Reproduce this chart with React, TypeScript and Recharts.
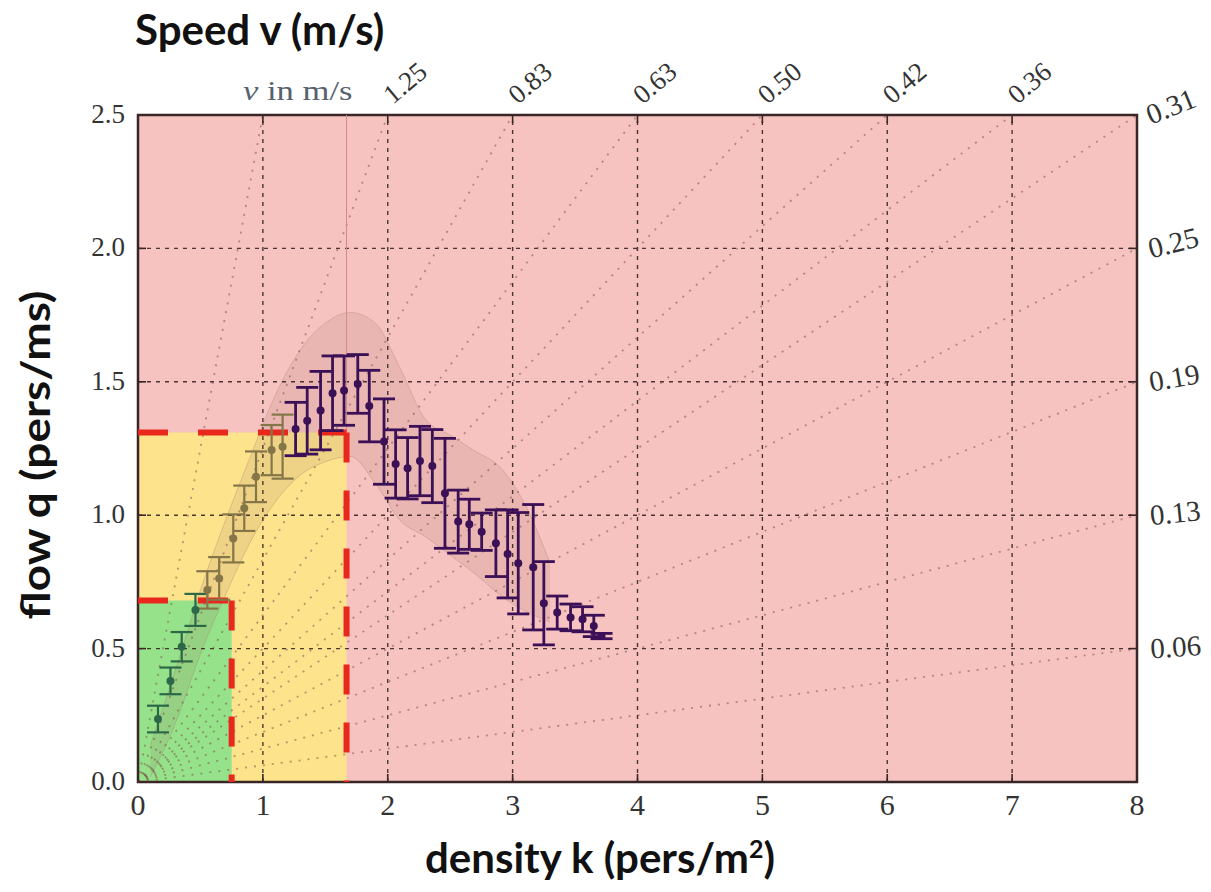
import React from 'react';
import {
  ComposedChart,
  XAxis,
  YAxis,
  ReferenceArea,
  ReferenceLine,
  Scatter,
  ErrorBar,
  Area,
} from 'recharts';

// ---------- axis ticks ----------
const densityTicks = [0, 1, 2, 3, 4, 5, 6, 7, 8];
const flowTicks = [0, 0.5, 1, 1.5, 2, 2.5];
const topSpeedTickK = [1, 2, 3, 4, 5, 6, 7];
const topSpeedLabels = ['', '1.25', '0.83', '0.63', '0.50', '0.42', '0.36'];
const rightSpeedTickQ = [0.5, 1, 1.5, 2, 2.5];
const rightSpeedLabels = ['0.06', '0.13', '0.19', '0.25', '0.31'];

// ---------- grid ----------
const gridK = [1, 2, 3, 4, 5, 6, 7];
const gridQ = [0.5, 1, 1.5, 2];

// ---------- constant-speed lines (through origin) ----------
const speedLineTopK = [1, 2, 3, 4, 5, 6, 7, 8]; // end on the top edge (q = 2.5)
const speedLineRightQ = [0.5, 1, 1.5, 2]; // end on the right edge (k = 8)

// ---------- level-of-service regions ----------
const greenLimitK = 0.75;
const greenLimitQ = 0.68;
const yellowLimitK = 1.67;
const yellowLimitQ = 1.31;

// ---------- measured data (mean flow with std-dev bars) ----------
const freeK = [0.16, 0.26, 0.35, 0.46];
const freeQ = [0.236, 0.379, 0.507, 0.645];
const freeErr = [0.05, 0.05, 0.055, 0.06];

const transK = [0.555, 0.65, 0.763, 0.851, 0.945, 1.07, 1.158];
const transQ = [0.72, 0.763, 0.913, 1.026, 1.144, 1.244, 1.257];
const transErr = [0.07, 0.08, 0.09, 0.085, 0.095, 0.094, 0.12];

const congK = [
  1.262, 1.355, 1.462, 1.558, 1.65, 1.76, 1.852, 1.97, 2.063, 2.159, 2.258, 2.357,
  2.458, 2.564, 2.653, 2.752, 2.866, 2.96, 3.045, 3.165, 3.25, 3.357, 3.464, 3.56,
  3.65, 3.712,
];
const congQ = [
  1.323, 1.354, 1.392, 1.457, 1.467, 1.492, 1.409, 1.276, 1.192, 1.176, 1.203, 1.184,
  1.082, 0.976, 0.966, 0.938, 0.895, 0.855, 0.82, 0.805, 0.67, 0.635, 0.617, 0.61,
  0.585, 0.547,
];
const congErr = [
  0.1, 0.125, 0.147, 0.14, 0.13, 0.11, 0.134, 0.16, 0.128, 0.115, 0.13, 0.137,
  0.206, 0.118, 0.094, 0.07, 0.125, 0.165, 0.19, 0.235, 0.156, 0.062, 0.05, 0.047,
  0.04, 0.01,
];

// ---------- raw trajectory cloud (approximate envelope) ----------
const cloudK = [0.1, 0.3, 0.5, 0.7, 0.9, 1.1, 1.3, 1.5, 1.7, 1.9, 2.1, 2.3, 2.5, 2.7, 2.9, 3.1, 3.3];
const cloudLow = [0.02, 0.22, 0.48, 0.7, 0.9, 1.05, 1.15, 1.2, 1.22, 1.12, 0.98, 0.92, 0.85, 0.78, 0.7, 0.64, 0.6];
const cloudHigh = [0.14, 0.42, 0.72, 0.98, 1.22, 1.45, 1.62, 1.72, 1.76, 1.72, 1.55, 1.36, 1.3, 1.24, 1.18, 1.04, 0.82];

const toPoints = (ks: number[], qs: number[], es: number[]) =>
  ks.map((k, i) => ({ k, q: qs[i], err: es[i] }));

const freeData = toPoints(freeK, freeQ, freeErr);
const transData = toPoints(transK, transQ, transErr);
const congData = toPoints(congK, congQ, congErr);
const cloudData = cloudK.map((k, i) => ({ k, range: [cloudLow[i], cloudHigh[i]] }));

const SERIF = "'Liberation Serif', 'DejaVu Serif', serif";
const SANS = "Lato, 'Open Sans', sans-serif";

const PINK = '#f6c3c0';
const YELLOW = '#fce38c';
const GREEN = '#96e28a';
const RED = '#e8281c';
const FRAME = '#3a2626';
const TICK_IN = 8;

const BottomTick = (props: any) => {
  const { x, y, payload } = props;
  return (
    <text x={x} y={y + TICK_IN + 33} textAnchor="middle" fontFamily={SERIF} fontSize={30} fill="#333">
      {payload.value}
    </text>
  );
};

const LeftTick = (props: any) => {
  const { x, y, payload } = props;
  return (
    <text x={x - TICK_IN - 13} y={y + 8} textAnchor="end" fontFamily={SERIF} fontSize={27} fill="#333">
      {Number(payload.value).toFixed(1)}
    </text>
  );
};

const rightAngles = [-4, -6, -10, -14, -22];
const RightTick = (props: any) => {
  const { x, y, payload, index } = props;
  const i = rightSpeedTickQ.indexOf(payload.value);
  const label = rightSpeedLabels[i >= 0 ? i : index];
  const a = rightAngles[i >= 0 ? i : index] ?? -8;
  const tx = x + TICK_IN + 14;
  const ty = y + 10;
  return (
    <text
      x={tx}
      y={ty}
      textAnchor="start"
      fontFamily={SERIF}
      fontSize={29}
      fill="#333"
      transform={`rotate(${a}, ${tx}, ${ty})`}
    >
      {label}
    </text>
  );
};

const TopTick = (props: any) => {
  const { x, y, payload, index } = props;
  const i = topSpeedTickK.indexOf(payload.value);
  const label = topSpeedLabels[i >= 0 ? i : index];
  const tx = x + 5;
  const ty = y - TICK_IN - 10;
  return (
    <text
      x={tx}
      y={ty}
      textAnchor="start"
      fontFamily={SERIF}
      fontSize={27}
      fill="#333"
      transform={`rotate(-40, ${tx}, ${ty})`}
    >
      {label}
    </text>
  );
};

const dot = (color: string) => (props: any) => (
  <circle cx={props.cx} cy={props.cy} r={4} fill={color} />
);

const tickLineStyle = { stroke: FRAME, strokeWidth: 1.6 };

export default function App() {
  return (
    <div
      style={{
        position: 'absolute',
        left: 0,
        top: 0,
        width: 1211,
        height: 892,
        background: '#ffffff',
        fontFamily: SERIF,
        overflow: 'hidden',
      }}
    >
      <ComposedChart
        width={1211}
        height={892}
        data={cloudData}
        margin={{ top: 85, right: 34, bottom: 80, left: 98 }}
      >
        <XAxis
          dataKey="k"
          type="number"
          domain={[0, 8]}
          ticks={densityTicks}
          axisLine={false}
          tickLine={tickLineStyle}
          tickSize={-TICK_IN}
          tickMargin={0}
          height={30}
          tick={BottomTick}
          allowDataOverflow
        />
        <XAxis
          xAxisId="top"
          dataKey="k"
          orientation="top"
          type="number"
          domain={[0, 8]}
          ticks={topSpeedTickK}
          axisLine={false}
          tickLine={tickLineStyle}
          tickSize={-TICK_IN}
          tickMargin={0}
          height={30}
          tick={TopTick}
          allowDataOverflow
        />
        <YAxis
          type="number"
          domain={[0, 2.5]}
          ticks={flowTicks}
          axisLine={false}
          tickLine={tickLineStyle}
          tickSize={-TICK_IN}
          tickMargin={0}
          width={40}
          tick={LeftTick}
          allowDataOverflow
        />
        <YAxis
          yAxisId="right"
          orientation="right"
          type="number"
          domain={[0, 2.5]}
          ticks={rightSpeedTickQ}
          axisLine={false}
          tickLine={tickLineStyle}
          tickSize={-TICK_IN}
          tickMargin={0}
          width={40}
          tick={RightTick}
          allowDataOverflow
        />

        {/* level-of-service backgrounds */}
        <ReferenceArea x1={0} x2={8} y1={0} y2={2.5} fill={PINK} fillOpacity={1} stroke="none" />
        <ReferenceArea x1={0} x2={yellowLimitK} y1={0} y2={yellowLimitQ} fill={YELLOW} fillOpacity={1} stroke="none" />
        <ReferenceArea x1={0} x2={greenLimitK} y1={0} y2={greenLimitQ} fill={GREEN} fillOpacity={1} stroke="none" />

        {/* grid */}
        {gridK.map((k) => (
          <ReferenceLine key={`gk${k}`} x={k} stroke="#2b1b1b" strokeWidth={1.4} strokeDasharray="4 5" strokeOpacity={0.85} />
        ))}
        {gridQ.map((q) => (
          <ReferenceLine key={`gq${q}`} y={q} stroke="#2b1b1b" strokeWidth={1.4} strokeDasharray="4 5" strokeOpacity={0.85} />
        ))}

        {/* constant speed lines */}
        {speedLineTopK.map((k) => (
          <ReferenceLine
            key={`st${k}`}
            segment={[{ x: 0, y: 0 }, { x: k, y: 2.5 }]}
            stroke="#7a4646"
            strokeWidth={1.8}
            strokeDasharray="2 7"
            strokeOpacity={0.5}
          />
        ))}
        {speedLineRightQ.map((q) => (
          <ReferenceLine
            key={`sr${q}`}
            segment={[{ x: 0, y: 0 }, { x: 8, y: q }]}
            stroke="#7a4646"
            strokeWidth={1.8}
            strokeDasharray="2 7"
            strokeOpacity={0.5}
          />
        ))}

        {/* trajectory cloud */}
        <Area
          dataKey="range"
          type="monotone"
          fill="#9a6a5c"
          fillOpacity={0.14}
          stroke="#a07868"
          strokeOpacity={0.3}
          strokeWidth={1}
          isAnimationActive={false}
          dot={false}
          activeDot={false}
        />

        {/* thin boundary line above the yellow region */}
        <ReferenceLine
          segment={[{ x: yellowLimitK, y: yellowLimitQ }, { x: yellowLimitK, y: 2.5 }]}
          stroke="#d48c88"
          strokeWidth={1}
        />

        {/* red dashed LOS boundaries */}
        <ReferenceLine
          segment={[{ x: 0, y: greenLimitQ }, { x: greenLimitK, y: greenLimitQ }]}
          stroke={RED}
          strokeWidth={6}
          strokeDasharray="30 30"
        />
        <ReferenceLine
          segment={[{ x: greenLimitK, y: greenLimitQ }, { x: greenLimitK, y: 0 }]}
          stroke={RED}
          strokeWidth={6}
          strokeDasharray="30 28"
        />
        <ReferenceLine
          segment={[{ x: 0, y: yellowLimitQ }, { x: yellowLimitK, y: yellowLimitQ }]}
          stroke={RED}
          strokeWidth={6}
          strokeDasharray="30 30"
        />
        <ReferenceLine
          segment={[{ x: yellowLimitK, y: yellowLimitQ }, { x: yellowLimitK, y: 0 }]}
          stroke={RED}
          strokeWidth={6}
          strokeDasharray="30 28"
        />

        {/* data */}
        <Scatter data={freeData} dataKey="q" fill="#2c6848" shape={dot('#2c6848')} isAnimationActive={false}>
          <ErrorBar dataKey="err" direction="y" width={11} stroke="#2c6848" strokeWidth={2.2} />
        </Scatter>
        <Scatter data={transData} dataKey="q" fill="#857649" shape={dot('#857649')} isAnimationActive={false}>
          <ErrorBar dataKey="err" direction="y" width={11} stroke="#857649" strokeWidth={2.2} />
        </Scatter>
        <Scatter data={congData} dataKey="q" fill="#3c1056" shape={dot('#3c1056')} isAnimationActive={false}>
          <ErrorBar dataKey="err" direction="y" width={11} stroke="#3c1056" strokeWidth={2.8} />
        </Scatter>

        {/* frame */}
        <ReferenceArea x1={0} x2={8} y1={0} y2={2.5} fill="none" fillOpacity={0} stroke={FRAME} strokeWidth={2.5} ifOverflow="visible" />
      </ComposedChart>

      {/* titles */}
      <div
        style={{
          position: 'absolute',
          left: 135,
          top: 4,
          fontFamily: SANS,
          fontWeight: 700,
          fontSize: 42,
          lineHeight: '50px',
          color: '#111',
          whiteSpace: 'nowrap',
        }}
      >
        Speed v (m/s)
      </div>
      <div
        style={{
          position: 'absolute',
          left: 243,
          top: 76,
          fontFamily: SERIF,
          fontSize: 27,
          lineHeight: '30px',
          color: '#56626e',
          whiteSpace: 'nowrap',
          transform: 'scaleX(1.28)',
          transformOrigin: 'left center',
        }}
      >
        <i>v</i> in m/s
      </div>
      <div
        style={{
          position: 'absolute',
          left: 35,
          top: 455,
          transform: 'translate(-50%, -50%) rotate(-90deg) scaleX(1.12)',
          fontFamily: SANS,
          fontWeight: 700,
          fontSize: 41,
          lineHeight: '48px',
          color: '#111',
          whiteSpace: 'nowrap',
        }}
      >
        flow q (pers/ms)
      </div>
      <div
        style={{
          position: 'absolute',
          left: 600,
          top: 857,
          transform: 'translate(-50%, -50%)',
          fontFamily: SANS,
          fontWeight: 700,
          fontSize: 42,
          lineHeight: '48px',
          color: '#111',
          whiteSpace: 'nowrap',
        }}
      >
        density k (pers/m<sup style={{ fontSize: 25, verticalAlign: 'super', lineHeight: 0 }}>2</sup>)
      </div>
    </div>
  );
}
